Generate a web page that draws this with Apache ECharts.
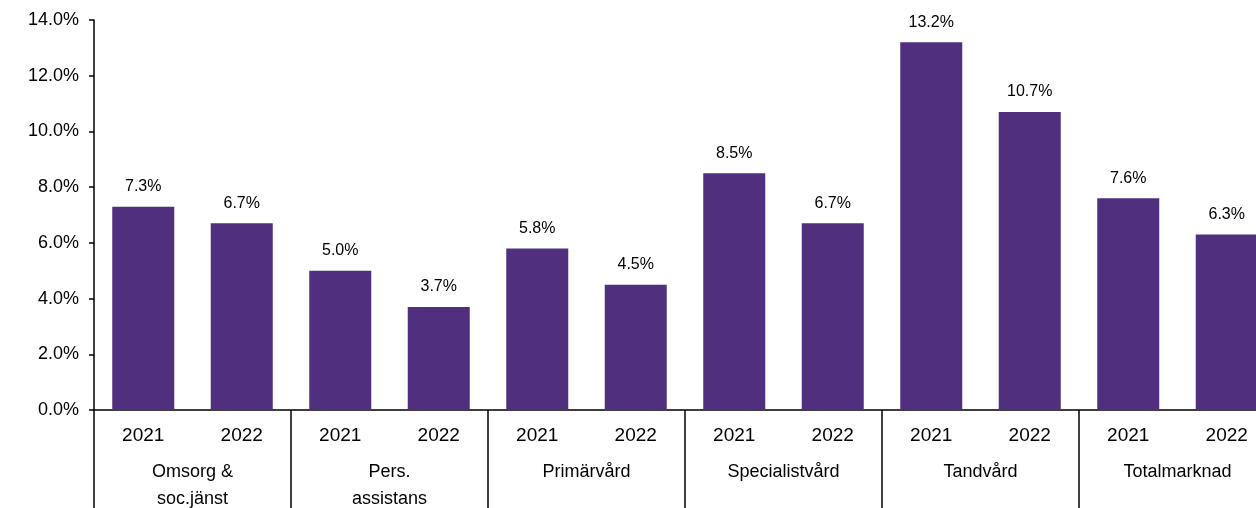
<!DOCTYPE html>
<html>
<head>
<meta charset="utf-8">
<script src="https://cdn.jsdelivr.net/npm/echarts@6/dist/echarts.min.js"></script>
<style>
html, body { margin: 0; padding: 0; background: #fff; }
#chart { width: 1256px; height: 508px; }
</style>
</head>
<body>
<div id="chart"></div>
<script>
var groups = ['Omsorg &\nsoc.jänst', 'Pers.\nassistans', 'Primärvård', 'Specialistvård', 'Tandvård', 'Totalmarknad'];
var years = ['2021', '2022'];
var values = [7.3, 6.7, 5.0, 3.7, 5.8, 4.5, 8.5, 6.7, 13.2, 10.7, 7.6, 6.3];
var yTicks = [0, 2, 4, 6, 8, 10, 12, 14];

var cats = [];
groups.forEach(function(g) {
	years.forEach(function(y) {
		cats.push(y);
	});
});

var font = 'Liberation Sans, Arial, sans-serif';
var chart = echarts.init(document.getElementById('chart'));

var option = {
	animation : false,
	grid : {
		left : 94,
		right : -20,
		top : 20,
		bottom : 98,
		outerBoundsMode : 'none'
	},
	xAxis : [{
		type : 'category',
		data : cats,
		axisLine : { lineStyle : { color : '#000', width : 1.5 } },
		axisTick : { show : false },
		axisLabel : { color : '#000', fontSize : 19, fontFamily : font, margin : 16, interval : 0 }
	}, {
		type : 'category',
		position : 'bottom',
		data : groups,
		axisLine : { show : false },
		axisTick : { show : true, length : 100, lineStyle : { color : '#000', width : 1.5 } },
		axisLabel : { color : '#000', fontSize : 18, fontFamily : font, margin : 49, lineHeight : 27, interval : 0 }
	}],
	yAxis : {
		type : 'value',
		min : yTicks[0],
		max : yTicks[yTicks.length - 1],
		interval : 2,
		splitLine : { show : false },
		axisLine : { show : true, lineStyle : { color : '#000', width : 1.5 } },
		axisTick : { show : true, length : 5, lineStyle : { color : '#000', width : 1.5 } },
		axisLabel : {
			color : '#000', fontSize : 18, fontFamily : font, margin : 15,
			formatter : function(v) { return v.toFixed(1) + '%'; }
		}
	},
	series : [{
		type : 'bar',
		data : values,
		barWidth : 62,
		itemStyle : { color : '#512F7F' },
		label : {
			show : true,
			position : 'top',
			distance : 12,
			color : '#000',
			fontSize : 16,
			fontFamily : font,
			formatter : function(p) { return p.value.toFixed(1) + '%'; }
		}
	}]
};

chart.setOption(option);
</script>
</body>
</html>
